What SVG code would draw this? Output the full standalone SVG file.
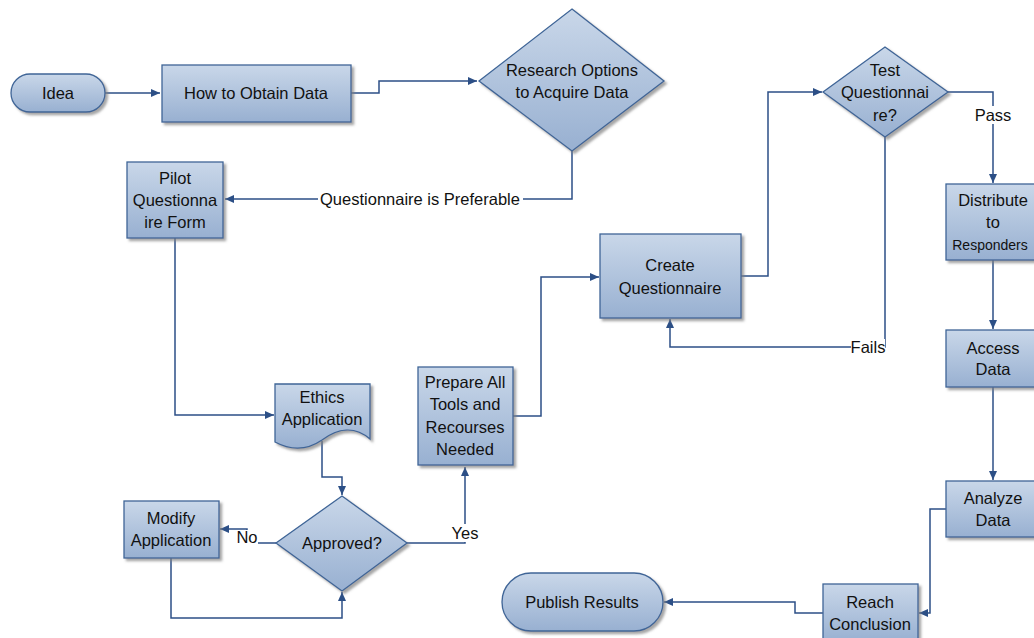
<svg xmlns="http://www.w3.org/2000/svg" width="1034" height="638" viewBox="0 0 1034 638">
<defs>
<linearGradient id="g" x1="0" y1="0" x2="0" y2="1">
<stop offset="0" stop-color="#c9d7e9"/>
<stop offset="1" stop-color="#98b0d1"/>
</linearGradient>
<filter id="sh" x="-10%" y="-10%" width="130%" height="130%">
<feDropShadow dx="2.5" dy="2.5" stdDeviation="0.8" flood-color="#808080" flood-opacity="0.7"/>
</filter>
<marker id="ah" markerWidth="10" markerHeight="10" refX="9" refY="5" orient="auto" markerUnits="userSpaceOnUse">
<path d="M0,1 L9,5 L0,9 Z" fill="#2c4f86"/>
</marker>
</defs>
<style>
.n{fill:url(#g);stroke:#3f6597;stroke-width:1.3;filter:url(#sh)}
.c{fill:none;stroke:#2c4f86;stroke-width:1.5;marker-end:url(#ah)}
.t{font-family:"Liberation Sans",Arial,sans-serif;font-size:16.5px;fill:#111;text-anchor:middle;dominant-baseline:central}
.s{font-size:14px}
.bg{fill:#ffffff}
</style>
<rect width="1034" height="638" fill="#ffffff"/>

<g id="connectors">
<path class="c" d="M105,93 H160"/>
<path class="c" d="M351,93 H379 V81 H477"/>
<path class="c" d="M572,151 V199 H225"/>
<path class="c" d="M175,238 V415 H274"/>
<path class="c" d="M322,441 V477 H342 V495"/>
<path class="c" d="M276,543 H247 V529 H220"/>
<path class="c" d="M171,558 V618 H342 V592"/>
<path class="c" d="M407,543 H465 V467"/>
<path class="c" d="M513,416 H541 V277 H599"/>
<path class="c" d="M741,276 H768 V92 H822"/>
<path class="c" d="M885,137 V347 H670 V319"/>
<path class="c" d="M948,92 H993 V183"/>
<path class="c" d="M993,260 V329"/>
<path class="c" d="M993,387 V480"/>
<path class="c" d="M946,509 H930 V613 H919"/>
<path class="c" d="M823,613 H795 V602 H664"/>
<rect class="bg" x="318" y="190" width="205" height="18"/>
<text class="t" x="420" y="199">Questionnaire is Preferable</text>
<rect class="bg" x="236" y="530" width="22" height="15"/>
<text class="t" x="247" y="537">No</text>
<rect class="bg" x="452" y="524" width="27" height="18"/>
<text class="t" x="465" y="533">Yes</text>
<rect class="bg" x="975" y="106" width="36" height="18"/>
<text class="t" x="993" y="115">Pass</text>
<rect class="bg" x="851" y="339" width="34" height="17"/>
<text class="t" x="868" y="347">Fails</text>
</g>

<g id="idea">
<rect class="n" x="11" y="74" width="94" height="38" rx="19"/>
<text class="t" x="58" y="93">Idea</text>
</g>
<g id="how-to-obtain-data">
<rect class="n" x="162" y="65" width="189" height="57"/>
<text class="t" x="256" y="93">How to Obtain Data</text>
</g>
<g id="research-options">
<path class="n" d="M572,9 L664,81 L572,151 L479,81 Z"/>
<text class="t" x="572" y="70">Research Options</text>
<text class="t" x="572" y="92">to Acquire Data</text>
</g>
<g id="pilot-questionnaire">
<rect class="n" x="127" y="162" width="96" height="76"/>
<text class="t" x="175" y="178">Pilot</text>
<text class="t" x="175" y="200">Questionna</text>
<text class="t" x="175" y="222">ire Form</text>
</g>
<g id="ethics-application">
<path class="n" d="M275,384 H370 V439 C355,426 338,428 322,440 C306,451 290,450 275,442 Z"/>
<text class="t" x="322" y="397">Ethics</text>
<text class="t" x="322" y="419">Application</text>
</g>
<g id="approved">
<path class="n" d="M342,496 L407,543 L342,591 L276,543 Z"/>
<text class="t" x="342" y="543">Approved?</text>
</g>
<g id="modify-application">
<rect class="n" x="124" y="501" width="95" height="57"/>
<text class="t" x="171" y="518">Modify</text>
<text class="t" x="171" y="540">Application</text>
</g>
<g id="prepare-tools">
<rect class="n" x="418" y="367" width="95" height="98"/>
<text class="t" x="465" y="382">Prepare All</text>
<text class="t" x="465" y="404">Tools and</text>
<text class="t" x="465" y="427">Recourses</text>
<text class="t" x="465" y="449">Needed</text>
</g>
<g id="create-questionnaire">
<rect class="n" x="600" y="234" width="141" height="84"/>
<text class="t" x="670" y="265">Create</text>
<text class="t" x="670" y="288">Questionnaire</text>
</g>
<g id="test-questionnaire">
<path class="n" d="M885,47 L948,92 L885,137 L823,92 Z"/>
<text class="t" x="885" y="70">Test</text>
<text class="t" x="885" y="92">Questionnai</text>
<text class="t" x="885" y="115">re?</text>
</g>
<g id="distribute">
<rect class="n" x="946" y="184" width="95" height="76"/>
<text class="t" x="993" y="200">Distribute</text>
<text class="t" x="993" y="222">to</text>
<text class="t s" x="990" y="245">Responders</text>
</g>
<g id="access-data">
<rect class="n" x="946" y="330" width="95" height="57"/>
<text class="t" x="993" y="348">Access</text>
<text class="t" x="993" y="369">Data</text>
</g>
<g id="analyze-data">
<rect class="n" x="946" y="481" width="95" height="56"/>
<text class="t" x="993" y="498">Analyze</text>
<text class="t" x="993" y="520">Data</text>
</g>
<g id="reach-conclusion">
<rect class="n" x="823" y="584" width="95" height="58"/>
<text class="t" x="870" y="602">Reach</text>
<text class="t" x="870" y="624">Conclusion</text>
</g>
<g id="publish-results">
<rect class="n" x="502" y="573" width="161" height="58" rx="29"/>
<text class="t" x="582" y="602">Publish Results</text>
</g>
</svg>
